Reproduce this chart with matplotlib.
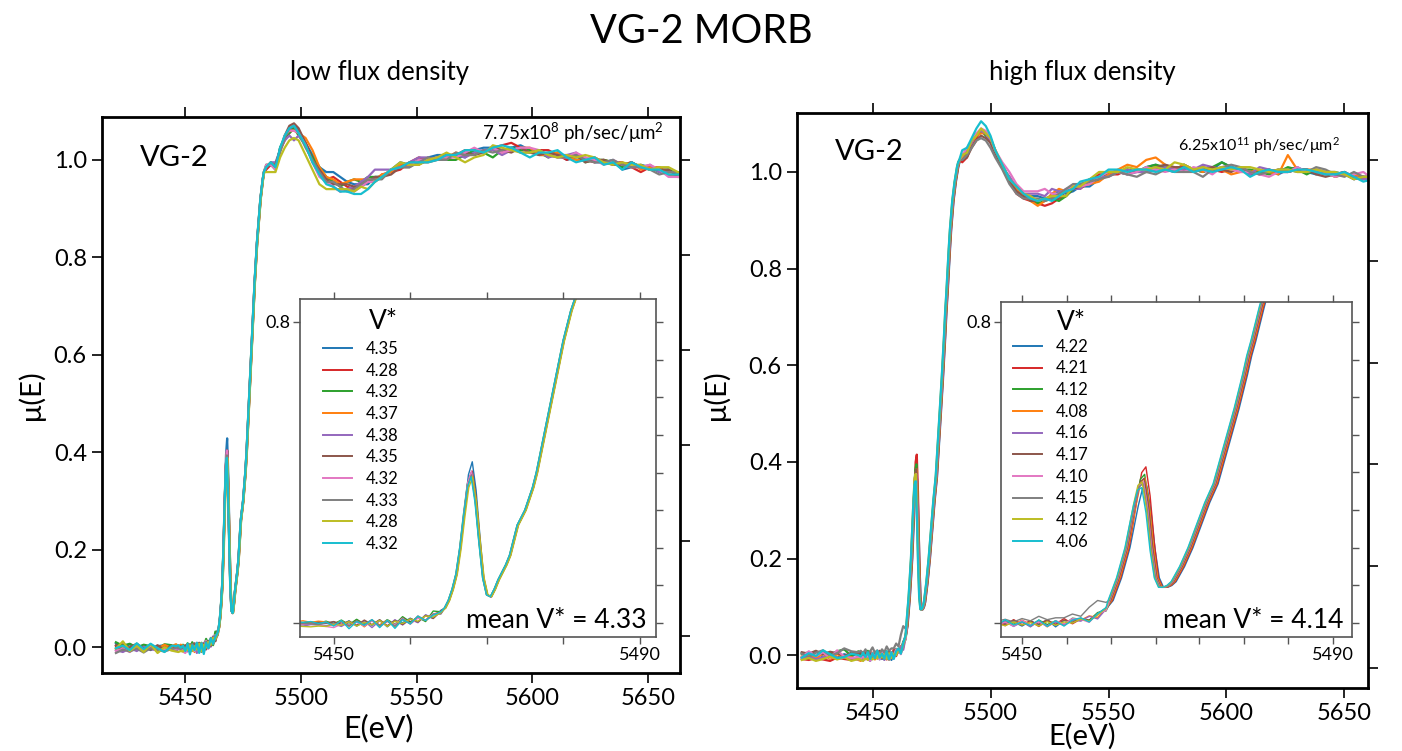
"""VG-2 MORB V K-edge XANES, low vs high flux density, with pre-edge insets."""
import numpy as np
import matplotlib
matplotlib.use("Agg")
import matplotlib.pyplot as plt

plt.rcParams['font.family'] = ['Lato', 'DejaVu Sans']
plt.rcParams['mathtext.fontset'] = 'custom'
plt.rcParams['mathtext.rm'] = 'Lato'
plt.rcParams['mathtext.it'] = 'Lato:italic'

COLORS = ['#1f77b4', '#d62728', '#2ca02c', '#ff7f0e', '#9467bd',
          '#8c564b', '#e377c2', '#7f7f7f', '#bcbd22', '#17becf']

# ---------------- energy grids (eV) ----------------
E_pre = [5420, 5423, 5426, 5429, 5432, 5435, 5438, 5441]
E_fine_L = [5444, 5445, 5446, 5447, 5448, 5449, 5450, 5451, 5452, 5453, 5454,
            5455, 5456, 5457, 5458, 5459, 5460, 5461, 5462, 5463, 5464]
E_fine_R = [5444, 5445, 5446, 5447, 5448, 5449, 5450, 5451, 5452, 5453, 5454,
            5455, 5456, 5457, 5458, 5459, 5460, 5461, 5462, 5463, 5464]
E_edge_L = [5464.5, 5465, 5465.5, 5466, 5466.5, 5467, 5467.5, 5468, 5468.5, 5469,
            5469.5, 5470, 5470.5, 5471, 5471.5, 5472, 5472.5, 5473, 5473.5, 5474,
            5474.5, 5475, 5475.5, 5476, 5476.5, 5477, 5477.5, 5478, 5478.5, 5479,
            5479.5, 5480, 5480.5, 5481, 5481.5, 5482, 5482.5, 5483, 5483.5, 5484]
E_edge_R = [5464.5, 5465, 5465.5, 5466, 5466.5, 5467, 5467.5, 5468, 5468.5, 5469,
            5469.5, 5470, 5470.5, 5471, 5471.5, 5472, 5472.5, 5473, 5473.5, 5474,
            5474.5, 5475, 5475.5, 5476, 5476.5, 5477, 5477.5, 5478, 5478.5, 5479,
            5479.5, 5480, 5480.5, 5481, 5481.5, 5482, 5482.5, 5483, 5483.5, 5484,
            5484.5, 5485, 5485.5, 5486, 5486.5, 5487]
E_post_L = [5485, 5487, 5489, 5491, 5493, 5495, 5497, 5499, 5502, 5505, 5508, 5511,
            5514, 5517, 5520, 5523, 5526, 5529, 5532, 5535, 5539, 5543, 5547, 5551,
            5555, 5559, 5563, 5567, 5571, 5575, 5579, 5583, 5587, 5591, 5595, 5599,
            5603, 5607, 5611, 5615, 5619, 5623, 5627, 5631, 5635, 5639, 5643, 5647,
            5651, 5655, 5659, 5663, 5667]
E_post_R = [5488, 5490, 5492, 5494, 5496, 5498, 5500, 5502, 5505, 5508, 5511, 5514,
            5517, 5520, 5523, 5526, 5529, 5532, 5535, 5538, 5542, 5546, 5550, 5554,
            5558, 5562, 5566, 5570, 5574, 5578, 5582, 5586, 5590, 5594, 5598, 5602,
            5606, 5610, 5614, 5618, 5622, 5626, 5630, 5634, 5638, 5642, 5646, 5650,
            5654, 5658, 5662, 5666, 5670]

# ---------------- low flux: mean curve + per-scan deviations ----------------
base_pre = [0.0, 0.0, 0.0, 0.0, 0.0, 0.0, 0.0, 0.0]
base_fine_L = [0.0, 0.0, 0.0, 0.0, 0.0, 0.0, 0.0, 0.0, 0.0, 0.0, 0.0,
               0.0, 0.0, 0.0, 0.002, 0.005, 0.006, 0.008, 0.012, 0.018, 0.028]
base_edge_L = [0.04, 0.06, 0.09, 0.13, 0.20, 0.29, 0.37, 0.40, 0.33, 0.22,
               0.12, 0.075, 0.07, 0.09, 0.115, 0.135, 0.155, 0.18, 0.22, 0.26,
               0.28, 0.30, 0.33, 0.36, 0.40, 0.45, 0.50, 0.55, 0.60, 0.65,
               0.70, 0.75, 0.79, 0.83, 0.86, 0.89, 0.92, 0.94, 0.96, 0.975]
peak_w_L = [0, 0, 0, 0, 0.2, 0.5, 0.85, 1.0, 0.8, 0.4,
            0, 0, 0, 0, 0, 0, 0, 0, 0, 0, 0, 0, 0, 0, 0, 0, 0, 0, 0, 0,
            0, 0, 0, 0, 0, 0, 0, 0, 0, 0]
base_post_L = [0.985, 0.99, 0.985, 1.02, 1.045, 1.06, 1.065, 1.055, 1.03, 1.0,
               0.975, 0.96, 0.955, 0.95, 0.945, 0.945, 0.95, 0.955, 0.96, 0.965,
               0.975, 0.985, 0.99, 0.995, 1.0, 1.0, 1.005, 1.01, 1.01, 1.015,
               1.015, 1.02, 1.02, 1.02, 1.02, 1.015, 1.015, 1.01, 1.01, 1.005,
               1.005, 1.0, 1.0, 0.995, 0.995, 0.99, 0.99, 0.985, 0.985, 0.98,
               0.975, 0.97, 0.965]
vstar_L = ['4.35', '4.28', '4.32', '4.37', '4.38', '4.35', '4.32', '4.33', '4.28', '4.32']
peak_L = [0.425, 0.40, 0.395, 0.39, 0.395, 0.40, 0.40, 0.39, 0.385, 0.385]
shift_L = [0.1, 0.1, -0.05, 0.0, 0.0, 0.05, 0.0, 0.0, 0.15, -0.05]
# deviations in units of 1e-3 (pre-edge coarse + fine)
bdev_L = [
    [8, -4, 6, -2, 4, -6, 2, 4, -3, -2, -4, -3, -2, -1, 3, -5, 6, -8, 4, -6, 8, -10, 5, -4, 7, -6, 9, -4, 6],
    [2, 6, -3, 5, -2, 3, -4, 1, 2, 0, -2, 1, -3, 2, -6, 4, -7, 9, -5, 7, -8, 6, -9, 10, -4, 8, -6, 5, 3],
    [10, 3, 7, -1, 5, 2, -5, 6, 4, 2, 1, 3, 0, 5, -2, 8, -4, 10, -3, 6, -6, 9, -5, 12, -3, 7, -8, 14, 2],
    [-4, 2, -6, 4, -8, 3, -3, 5, -2, 4, 6, 2, 5, 3, -4, 6, -8, 5, -10, 7, -5, 8, -11, 6, -7, 9, -4, 6, -2],
    [-6, -10, -2, -8, 1, -4, -7, -2, -5, -6, -8, -4, -5, -7, -2, -9, 3, -6, 5, -12, 6, -8, 7, -10, 4, -7, 10, -5, 3],
    [4, -6, 0, 7, -3, -5, 4, -6, 3, 1, 0, -1, 2, 0, 4, -3, 5, -6, 8, -4, 9, -7, 5, -9, 6, -5, 8, -6, 4],
    [-8, -3, -10, 2, -6, 0, -9, -4, -6, -4, -3, -2, -5, -9, -12, -3, -5, 2, -8, 6, -10, 4, -6, 8, -9, 5, -4, 7, -3],
    [-12, -5, -9, -3, -11, -2, -6, -9, -4, -3, -1, -2, -4, 1, -5, 4, -8, 6, -3, 9, -7, 5, -10, 6, -8, 11, -5, 6, -4],
    [-3, 12, -8, 3, -10, 6, -12, 0, -7, -8, -9, -10, -8, -9, -3, -6, 4, -8, 2, -5, 7, -9, 3, -6, 5, -3, 7, -2, 0],
    [-2, 3, -6, 8, -4, 7, -2, -10, 2, 3, 2, 4, -1, 3, -8, 7, -15, 4, -6, 9, -12, 8, -16, 4, -8, 10, -5, 3, 2],
]
pdev_L = [
    [0, 5, -5, 5, 0, 0, 5, 5, 5, 10, 10, 15, 20, 15, 10, 5, 0, -5, 5, 0, 5, 10, 0, -5, 5, 10, 5, 0, -5, 5, 10, 5, 0, 5, 10, 5, -5, 0, 5, -5, 0, 5, -5, 0, 5, -10, -5, 5, 0, -5, 5, 0, -5],
    [-5, 0, 5, 0, -5, -5, 0, 0, 5, 0, 5, 0, 10, 5, 0, -5, 5, 0, -5, 5, 0, -5, 5, 10, 0, 5, -5, 0, 10, 5, 0, 5, 10, 15, 5, 0, 5, 10, 0, -5, 5, 0, -5, 5, 0, 5, -5, -10, 0, 5, -5, -5, 0],
    [5, 0, -5, 5, 0, -5, 0, -5, 0, 5, 10, 5, 0, -5, 10, 15, 5, 10, 5, 0, 5, 0, -5, 5, 0, 5, -5, -10, 0, 5, 0, -15, 0, 5, 0, 5, 0, -5, 5, 0, 5, -5, 0, 5, 0, -5, 5, 0, -5, 0, 5, 0, -5],
    [0, 5, 5, 0, 5, 0, -5, 0, 15, 20, 10, 5, 5, 0, 10, 15, 10, 5, 0, 5, 0, 5, 0, -5, 0, 5, 0, 5, 0, -5, 5, 0, -5, 0, 5, 10, -5, 0, 5, 0, -5, 0, 5, 0, -5, 0, 5, -5, 0, 5, -5, 0, 5],
    [0, 5, 10, 0, -5, -10, -25, -5, 0, -5, -5, 0, -10, -15, -5, 0, 5, 10, 20, 15, 5, 0, 5, 10, 5, 0, 5, 0, -5, 0, 5, 0, -10, 0, 5, 0, 5, -5, 0, 5, 10, 0, 5, 0, -5, 0, 5, 0, 5, -5, 0, 5, 0],
    [0, 0, 5, 0, 5, 10, 10, 10, 5, 0, 5, 0, -5, 0, 5, 0, -5, 0, 5, 0, -5, 0, 5, 0, -5, 0, 5, 0, 5, -5, 0, 5, 0, -5, 5, 0, -5, 5, 0, 0, 5, -5, 0, 5, -5, 0, 5, 0, -5, 0, 5, -5, 0],
    [5, 0, -5, 0, 5, 0, -5, 0, 0, -5, -10, -5, -10, -15, -5, -10, -5, 0, -5, 0, 5, 0, -5, 5, 0, 5, 0, -5, 5, 10, 0, 5, -5, 0, 5, 10, 5, 0, -5, 0, 10, 5, 0, -5, 5, 0, -5, 0, 5, 0, -10, -5, 0],
    [0, 5, 0, -5, 0, 5, 5, 0, -5, 0, 0, -5, 0, -5, -10, -5, 0, 5, 0, -5, 5, 0, -5, 0, 5, 0, -5, 5, 0, -5, 5, -5, 0, 5, -5, 0, 5, 0, -5, 0, 5, 0, -5, 0, 5, 0, -5, 0, -5, -10, 0, 5, 0],
    [-10, -15, -10, -15, -20, -20, -20, -15, -20, -20, -25, -20, -15, -10, -5, -10, -5, -15, -5, 0, 5, 10, 0, -5, 0, 5, 10, -5, -15, -10, -5, 10, 5, 0, -5, 0, 5, 0, -5, 5, 0, 10, 5, 0, -5, 5, 0, 5, -5, 5, 10, 5, 0],
    [0, 5, 0, 5, 5, 5, 5, 0, 0, -5, -5, -10, -10, -15, -10, -15, -20, -15, -5, 0, 5, 0, 5, 0, -5, 0, 5, 0, 10, 5, 0, 5, 10, 5, -5, -10, 0, 5, 10, 0, -10, 0, 5, -5, 0, -10, 5, 0, -5, 0, -5, 0, 5],
]

# ---------------- high flux ----------------
base_fine_R = [0.0, 0.0, 0.0, 0.0, 0.0, 0.0, 0.0, 0.0, 0.0, 0.0, 0.0,
               0.0, 0.0, 0.0, 0.0, 0.002, 0.004, 0.008, 0.012, 0.02, 0.035]
base_edge_R = [0.06, 0.09, 0.12, 0.16, 0.20, 0.26, 0.32, 0.37, 0.38, 0.31,
               0.20, 0.12, 0.095, 0.095, 0.10, 0.11, 0.13, 0.15, 0.175, 0.20,
               0.23, 0.26, 0.29, 0.32, 0.345, 0.37, 0.41, 0.45, 0.49, 0.53,
               0.57, 0.615, 0.66, 0.71, 0.75, 0.795, 0.84, 0.88, 0.91, 0.94,
               0.96, 0.98, 0.995, 1.01, 1.02, 1.025]
peak_w_R = [0, 0, 0, 0, 0, 0.2, 0.5, 0.85, 1.0, 0.8, 0.4,
            0, 0, 0, 0, 0, 0, 0, 0, 0, 0, 0, 0, 0, 0, 0, 0, 0, 0, 0, 0,
            0, 0, 0, 0, 0, 0, 0, 0, 0, 0, 0, 0, 0, 0, 0]
base_post_R = [1.03, 1.04, 1.06, 1.075, 1.085, 1.08, 1.065, 1.04, 1.01, 0.985,
               0.965, 0.955, 0.95, 0.945, 0.945, 0.945, 0.95, 0.955, 0.965, 0.97,
               0.98, 0.99, 0.995, 1.0, 1.0, 1.0, 1.005, 1.005, 1.005, 1.005,
               1.01, 1.005, 1.005, 1.005, 1.005, 1.005, 1.005, 1.0, 1.0, 1.0,
               1.0, 1.005, 1.005, 1.0, 1.0, 1.0, 0.995, 0.995, 0.99, 0.99,
               0.985, 0.985, 0.98]
vstar_R = ['4.22', '4.21', '4.12', '4.08', '4.16', '4.17', '4.10', '4.15', '4.12', '4.06']
peak_R = [0.36, 0.41, 0.39, 0.38, 0.37, 0.38, 0.37, 0.365, 0.37, 0.355]
shift_R = [0.35, 0.25, 0.1, 0.15, 0.0, 0.05, -0.05, -0.1, -0.2, -0.25]
bdev_R = [
    [5, -2, 8, -4, 3, -6, 2, -3, 5, 2, -3, 4, -6, 5, -2, 7, -5, 3, -8, 6, -4, 8, -10, 5, -2, 4, -6, 3, 2],
    [-8, -10, -6, -9, -12, -5, -8, -10, -3, 4, -2, 6, -5, 8, -3, 5, -7, 9, -4, 6, -9, 7, -3, 10, -6, 3, -4, 6, 3],
    [2, 6, -3, 5, 0, 8, 12, -2, 8, -5, 6, -2, 9, -6, 4, -8, 7, -3, 5, -9, 8, -4, 6, -7, 9, 2, -5, 8, -3],
    [-3, 0, -6, 3, -8, 2, -5, -4, -10, -12, -4, -8, 2, -6, 5, -9, 3, -5, 8, -4, 6, -10, 4, -6, 3, 0, 7, -5, 4],
    [-6, -3, -9, -4, -2, -8, -5, -7, -9, -6, -11, -3, -8, -12, -2, -6, 4, -9, 3, -10, 5, -7, 2, -8, 4, -3, 6, -9, 2],
    [6, 3, 9, 2, 7, 4, -2, 5, 3, 6, 1, 4, -3, 7, -5, 3, -2, 8, -6, 4, -3, 9, -5, 6, -2, 5, -8, 4, 5],
    [-4, 8, -2, 6, -6, 10, -3, -6, -4, -7, -3, -9, 2, -11, 5, -4, 2, -8, 7, -5, 3, -9, 6, -4, 8, 2, -10, 5, -2],
    [3, -4, 5, 10, -1, 4, 14, 8, 6, 9, 4, 12, 2, 8, 16, 5, 10, 3, 12, 6, 18, 9, 14, 12, 20, 10, 30, 40, 20],
    [-10, -6, -12, -8, -3, -9, -4, -12, -8, -10, -12, -6, -10, -4, -9, -2, -7, 3, -5, 2, -8, 4, -6, 1, -4, 3, -7, 2, 4],
    [-5, 4, -2, 10, 2, -6, -4, 3, 0, -3, 5, -4, 6, -8, 4, -6, 9, -5, 3, -7, 8, -9, 6, -10, 4, 6, -9, 5, 6],
]
pdev_R = [
    [0, -5, -5, 0, 0, 0, 5, 0, 0, 5, 0, -5, 0, 5, 0, 5, 10, 0, -5, 0, -10, -5, 5, 0, -5, 0, 5, 10, 0, -5, 5, 0, -5, 0, 15, 5, 0, -5, 0, 5, -5, 0, 5, 0, -5, 0, 5, 0, -5, 0, 5, 0, -5],
    [-10, -10, -5, -5, 0, 0, 5, 5, 0, -5, -10, -10, -10, -10, -15, -10, -5, -5, 0, -5, 0, 5, 0, -5, 5, 0, -5, 0, 5, 0, -5, 0, 5, 0, -5, 0, 5, -5, 0, 5, 0, -5, 0, 5, 0, -5, 0, 5, 0, -5, 5, 0, -5],
    [0, 0, 5, 0, 0, -5, 0, 5, 5, 0, 0, -5, -5, -10, -5, 0, -10, -5, 0, 5, 0, -5, 5, 0, 5, 0, 5, 10, 5, 0, 5, 0, -5, 5, 15, 5, 0, 5, 0, -5, 0, 5, 0, -5, 5, 0, -5, 0, 5, 0, -5, 0, 5],
    [0, 5, 0, 0, -5, 0, 0, 5, 0, 0, 0, -5, -10, -15, -5, 10, 15, 5, 5, 0, -5, -10, 0, 5, 15, 10, 20, 25, 10, 0, 5, 0, -5, 5, 0, -10, -5, 0, 5, 0, -5, 30, 0, 5, 5, 0, -5, 0, 5, 0, -5, 5, 0],
    [5, 5, 0, 5, 0, 0, -5, -5, 0, 5, 5, 0, 5, 10, 5, 20, 10, 5, 0, -5, 5, 0, -5, 0, 5, 0, -5, 0, 5, 0, -5, 0, 10, 5, 0, 5, 0, -5, 10, 5, 0, -5, 0, 5, 0, -5, 0, 5, 0, -5, 0, 5, 0],
    [-5, -10, -10, -10, -10, -10, -5, 0, 0, -5, -5, -5, -10, -5, 0, 0, -5, 5, 0, 0, 5, 0, 5, 0, -5, 5, 0, 5, 10, 5, 0, -5, 0, 5, 0, -5, 5, 0, -5, 0, 5, -5, 0, 5, -5, -10, 0, 5, -5, 0, 5, -5, 0],
    [5, 10, 5, 5, 5, 5, 5, 5, 10, 15, 10, 5, 10, 15, 20, 10, 5, 10, 5, 0, -5, 0, 5, 0, -5, 0, 5, 0, -5, 0, -10, 5, 0, -10, 5, 0, -5, 0, -5, -10, 0, -5, 5, 0, 5, 0, -5, 0, 5, 10, 0, 5, 0],
    [-5, -5, -10, -10, -15, -15, -15, -10, -5, -10, -10, -10, -5, 0, -5, 0, 5, 10, 10, 5, 0, -5, -5, 0, -5, -10, -5, -10, 0, -5, -10, -5, -15, 0, 5, 10, 5, 0, -5, 0, 5, 0, -5, 0, 10, 5, 0, -5, 10, 0, 5, 0, -5],
    [5, 0, 5, 0, 5, 0, 5, 5, 5, 0, 5, 0, 0, -5, 0, 5, 0, -5, 5, 0, 5, 10, 5, 0, 10, 5, 0, 5, 0, 15, 5, 0, 5, 0, 5, 0, 5, 10, 5, 0, 5, 0, -5, 0, 5, 0, 5, 0, -5, 0, 5, 0, -5],
    [15, 10, 10, 15, 20, 15, 10, 5, 5, 0, 5, 0, -5, -5, 0, -5, 0, 5, 0, 10, 5, 0, 10, 5, 0, 5, 0, -5, 0, -5, 0, -5, 0, -5, 0, 5, 0, -10, 0, 5, 0, -5, 0, 5, 0, -5, 0, 5, 0, -10, 0, 5, 0],
]


def build_scan(i, E_fine, E_edge, E_post, base_fine, base_edge, base_post, bdev, pdev,
               peaks, peak_w, shifts):
    n_pre = len(E_pre)
    dev_b = np.array(bdev[i]) / 1000.0
    dev_p = np.array(pdev[i]) / 1000.0
    ref = np.mean(peaks)
    E = np.concatenate([E_pre, E_fine, np.array(E_edge) + shifts[i], E_post])
    mu = np.concatenate([
        np.array(base_pre) + dev_b[:n_pre],
        np.array(base_fine) + dev_b[n_pre:],
        np.array(base_edge) + (peaks[i] - ref) * np.array(peak_w),
        np.array(base_post) + dev_p,
    ])
    return E, mu


def style_main(ax, xlim, ylim, right_ticks):
    ax.set_xlim(*xlim)
    ax.set_ylim(*ylim)
    ax.set_xticks([5450, 5500, 5550, 5600, 5650])
    ax.set_yticks([0.0, 0.2, 0.4, 0.6, 0.8, 1.0])
    ax.set_yticklabels(['0.0', '0.2', '0.4', '0.6', '0.8', '1.0'])
    for s in ax.spines.values():
        s.set_linewidth(2.0)
    ax.tick_params(direction='out', length=7, width=1.2, labelsize=17,
                   top=True, right=False, pad=4)
    # mirrored right-hand ticks sit on a slightly different scale in the original
    tw = ax.twinx()
    tw.set_ylim(*ylim)
    tw.set_yticks(right_ticks)
    tw.set_yticklabels([])
    tw.tick_params(direction='out', length=7, width=1.2)
    for s in tw.spines.values():
        s.set_visible(False)


def style_inset(ax, xlim, ylim, xticks):
    ax.set_xlim(*xlim)
    ax.set_ylim(*ylim)
    ax.set_xticks(xticks)
    ax.set_xticklabels(['5450'] + [''] * (len(xticks) - 2) + ['5490'])
    ax.set_yticks([0.0, 0.8])
    ax.set_yticklabels(['', '0.8'])
    for s in ax.spines.values():
        s.set_linewidth(1.2)
        s.set_color('#555555')
    ax.tick_params(direction='out', length=5, width=1.0, color='#555555',
                   labelsize=13, top=True, pad=2)
    tw = ax.twinx()
    tw.set_ylim(*ylim)
    tw.set_yticks([0.0, 0.1, 0.2, 0.3, 0.4, 0.5, 0.6, 0.7, 0.8])
    tw.set_yticklabels([])
    tw.tick_params(direction='out', length=5, width=1.0, color='#555555')
    for s in tw.spines.values():
        s.set_visible(False)


fig = plt.figure(figsize=(14.02, 7.51), dpi=100)
axL = fig.add_axes([0.0728, 0.1039, 0.4123, 0.7403])
axR = fig.add_axes([0.5685, 0.0839, 0.4073, 0.7656])
inL = fig.add_axes([0.2140, 0.1518, 0.2539, 0.4501])
inR = fig.add_axes([0.7140, 0.1518, 0.2504, 0.4461])

panels = [
    (axL, inL, E_fine_L, E_edge_L, E_post_L, base_fine_L, base_edge_L, base_post_L,
     bdev_L, pdev_L, peak_L, peak_w_L, shift_L, vstar_L),
    (axR, inR, E_fine_R, E_edge_R, E_post_R, base_fine_R, base_edge_R, base_post_R,
     bdev_R, pdev_R, peak_R, peak_w_R, shift_R, vstar_R),
]
for ax, ins, Ef, Ee, Ep, bf, be, bp, bd, pd_, pk, pw, sh, vs in panels:
    for i in range(10):
        E, mu = build_scan(i, Ef, Ee, Ep, bf, be, bp, bd, pd_, pk, pw, sh)
        ax.plot(E, mu, color=COLORS[i], lw=1.6)
        ins.plot(E, mu, color=COLORS[i], lw=1.0, label=vs[i])

style_main(axL, (5414, 5664), (-0.053, 1.088), [1.0, 0.805, 0.609, 0.414, 0.218, 0.023])
style_main(axR, (5418, 5660), (-0.068, 1.122), [1.0256, 0.8154, 0.6051, 0.3949, 0.1846, -0.0256])
style_inset(inL, (5445.6, 5492.1), (-0.037, 0.861), [5450, 5460, 5470, 5480, 5490])
style_inset(inR, (5451.5, 5493.3), (-0.037, 0.853),
            [5454, 5459.3, 5464.6, 5469.9, 5475.1, 5480.4, 5485.7, 5491])

legend_spots = [(inL, 'mean V* = 4.33', (0.065, 0.876), (0.233, 0.932)),
                (inR, 'mean V* = 4.14', (0.034, 0.89), (0.200, 0.94))]
for ins, mean_txt, leg_xy, title_xy in legend_spots:
    leg = ins.legend(loc='upper left', bbox_to_anchor=leg_xy, frameon=False,
                     fontsize=12, handlelength=1.75, handletextpad=0.8,
                     labelspacing=0.34, borderaxespad=0.0, borderpad=0.0)
    for h in leg.legend_handles:
        h.set_linewidth(1.4)
    ins.text(title_xy[0], title_xy[1], 'V*', transform=ins.transAxes, ha='center',
             va='center', fontsize=19)
    ins.text(0.975, 0.012, mean_txt, transform=ins.transAxes, ha='right',
             va='bottom', fontsize=19)

axL.text(0.066, 0.926, 'VG-2', transform=axL.transAxes, fontsize=21, va='center')
axR.text(0.067, 0.932, 'VG-2', transform=axR.transAxes, fontsize=21, va='center')
axL.text(0.972, 0.971, r'7.75x10$^{8}$ ph/sec/μm$^{2}$', transform=axL.transAxes,
         ha='right', va='center', fontsize=13.5)
axR.text(0.951, 0.944, r'6.25x10$^{11}$ ph/sec/μm$^{2}$', transform=axR.transAxes,
         ha='right', va='center', fontsize=11.5)

fig.text(0.5, 0.958, 'VG-2 MORB', ha='center', va='center', fontsize=28.5)
fig.text(0.271, 0.903, 'low flux density', ha='center', va='center', fontsize=18.5)
fig.text(0.772, 0.903, 'high flux density', ha='center', va='center', fontsize=18.5)
fig.text(0.022, 0.474, 'μ(E)', rotation=90, ha='center', va='center', fontsize=21)
fig.text(0.511, 0.474, 'μ(E)', rotation=90, ha='center', va='center', fontsize=21)
fig.text(0.270, 0.031, 'E(eV)', ha='center', va='center', fontsize=22)
fig.text(0.772, 0.019, 'E(eV)', ha='center', va='center', fontsize=21)

fig.savefig('out.png', dpi=100)
